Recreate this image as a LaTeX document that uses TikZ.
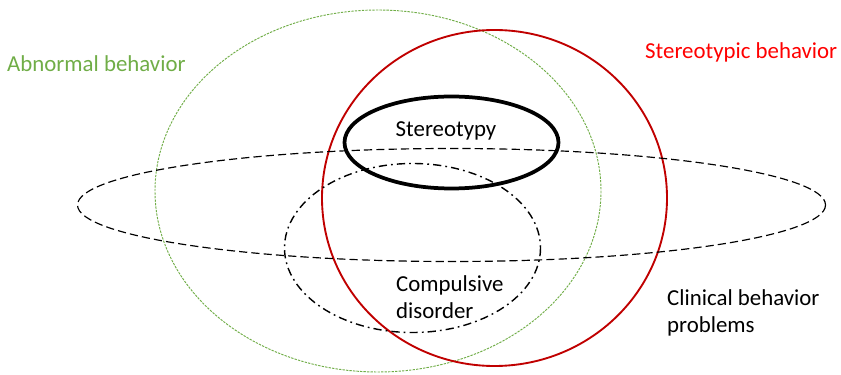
\documentclass[tikz,border=0pt]{standalone}
\usepackage{fontspec}
\setmainfont{Carlito}
\usetikzlibrary{positioning}
\definecolor{abngreen}{HTML}{70AD47}
\definecolor{sterred}{HTML}{C00000}
\definecolor{sterlabel}{HTML}{FF0000}

\begin{document}
\begin{tikzpicture}[x=0.03cm, y=-0.03cm,
        lbl/.style={font=\fontsize{19.5}{22.5}\selectfont, align=left, inner sep=0pt}]
      \useasboundingbox (0,0) rectangle (841,375);
      % Sets
      \draw[abngreen, line width=0.8pt, dash pattern=on 2pt off 1pt] (378,191) ellipse [x radius=223, y radius=181];
      \draw[sterred, line width=1.6pt] (494.5,198) ellipse [x radius=172.5, y radius=168];
      \draw[black, line width=3.2pt] (451.5,142.5) ellipse [x radius=107, y radius=46];
      \draw[black, line width=1pt, dash pattern=on 7pt off 3.5pt] (451.5,205) ellipse [x radius=374, y radius=56.5];
      \draw[black, line width=1.2pt, dash pattern=on 7pt off 3.5pt on 1.5pt off 3.5pt] (412.5,248) ellipse [x radius=128, y radius=84.5];

      % Labels
      \node[lbl, text=abngreen, anchor=west] (abnormal) at (7,64) {Abnormal behavior};
      \node[lbl, text=sterlabel, anchor=west] (stereotypic) at (645,52) {Stereotypic behavior};
      \node[lbl] (stereotypy) at (446,131) {Stereotypy};
      \node[lbl, anchor=west] (compulsive) at (396,297) {Compulsive\\disorder};
      \node[lbl, anchor=west] (clinical) at (667,313) {Clinical behavior\\problems};
    \end{tikzpicture}
\end{document}
